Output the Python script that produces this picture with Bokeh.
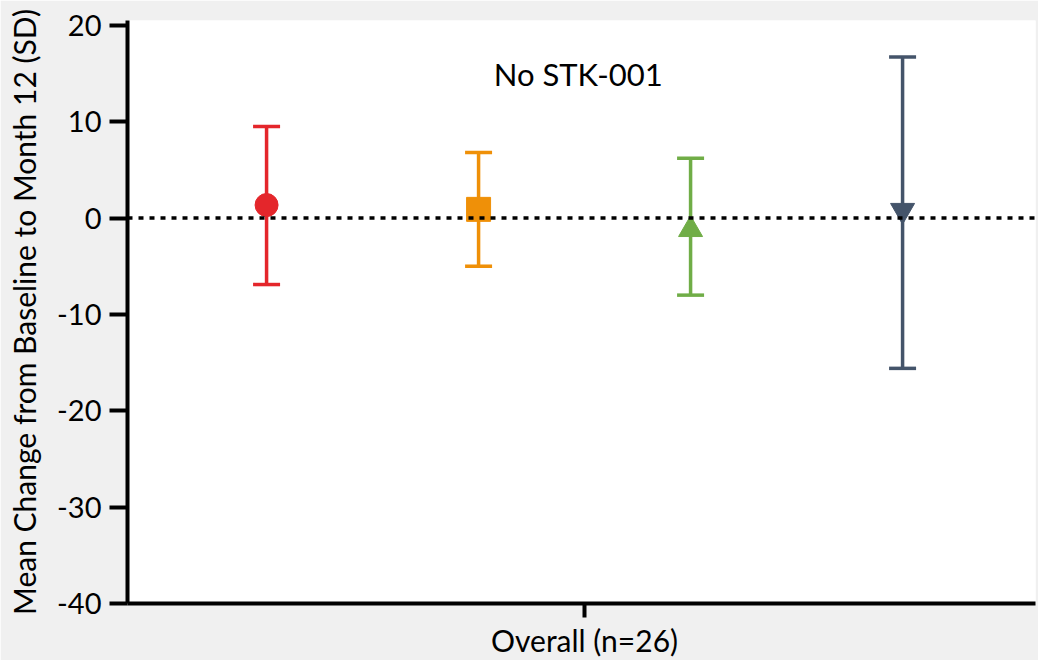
from bokeh.plotting import figure
from bokeh.models import FixedTicker, Whisker, ColumnDataSource, Label, Span, TeeHead
from bokeh.embed import file_html
from bokeh.resources import INLINE

# Mean change from baseline to month 12, with SD, for four groups (overall, n=26)
groups = ["A", "B", "C", "D"]
offsets = [-1.5, -0.5, 0.5, 1.5]
means = [1.35, 0.9, -1.2, 0.8]
upper = [9.5, 6.8, 6.2, 16.7]
lower = [-6.9, -5.0, -8.0, -15.6]
colors = ["#E4262B", "#EF9008", "#70AD47", "#44546A"]
markers = ["circle", "square", "triangle", "inverted_triangle"]
y_ticks = [-40, -30, -20, -10, 0, 10, 20]
y_tick_labels = ["-40", "-30", "-20", "-10", "0", "10", "20"]
category_label = "Overall (n=26)"
panel_title = "No STK-001"

FONT = "Lato"

p = figure(
    width=1038, height=660,
    x_range=(-2.156, 2.127), y_range=(-40, 20.5),
    output_backend="svg", toolbar_location=None,
    min_border_left=127, min_border_right=3, min_border_top=20, min_border_bottom=56,
)
p.background_fill_color = "white"
p.border_fill_color = "#F0F0F0"
p.outline_line_color = None
p.xgrid.visible = False
p.ygrid.visible = False

# y axis
ya = p.yaxis[0]
ya.ticker = FixedTicker(ticks=y_ticks)
ya.major_label_overrides = dict(zip(y_ticks, y_tick_labels))
ya.axis_line_width = 4
ya.axis_line_color = "black"
ya.major_tick_line_width = 4
ya.major_tick_line_color = "black"
ya.major_tick_out = 18
ya.major_tick_in = 0
ya.minor_tick_line_color = None
ya.major_label_text_font = FONT
ya.major_label_text_font_size = "29px"
ya.major_label_text_color = "black"
ya.major_label_standoff = 8
ya.axis_label = "Mean Change from Baseline to Month 12 (SD)"
ya.axis_label_text_font = FONT
ya.axis_label_text_font_size = "30px"
ya.axis_label_text_font_style = "normal"
ya.axis_label_text_color = "black"
ya.axis_label_standoff = 12

# x axis: single category tick
xa = p.xaxis[0]
xa.ticker = FixedTicker(ticks=[0])
xa.major_label_overrides = {0: category_label}
xa.axis_line_width = 4
xa.axis_line_color = "black"
xa.major_tick_line_width = 4
xa.major_tick_line_color = "black"
xa.major_tick_out = 14
xa.major_tick_in = 0
xa.minor_tick_line_color = None
xa.major_label_text_font = FONT
xa.major_label_text_font_size = "30px"
xa.major_label_text_color = "black"
xa.major_label_standoff = 4

# zero reference line
p.add_layout(Span(location=0, dimension="width", line_color="black",
                  line_width=3.5, line_dash="5 6"))

# SD whiskers
for i in range(len(groups)):
    src = ColumnDataSource(dict(x=[offsets[i]], upper=[upper[i]], lower=[lower[i]]))
    w = Whisker(
        source=src, base="x", upper="upper", lower="lower", dimension="height",
        line_color=colors[i], line_width=3.5,
        upper_head=TeeHead(size=27, line_color=colors[i], line_width=3.5),
        lower_head=TeeHead(size=27, line_color=colors[i], line_width=3.5),
    )
    p.add_layout(w)

# group means
for i in range(len(groups)):
    size = 23 if markers[i] == "circle" else 24
    p.scatter([offsets[i]], [means[i]], marker=markers[i], size=size,
              fill_color=colors[i], line_color=colors[i], line_width=1)

p.add_layout(Label(x=-0.03, y=15, text=panel_title, text_font=FONT,
                   text_font_size="31px", text_color="black",
                   text_align="center", text_baseline="middle"))

open("out.html", "w").write(file_html(p, INLINE))
